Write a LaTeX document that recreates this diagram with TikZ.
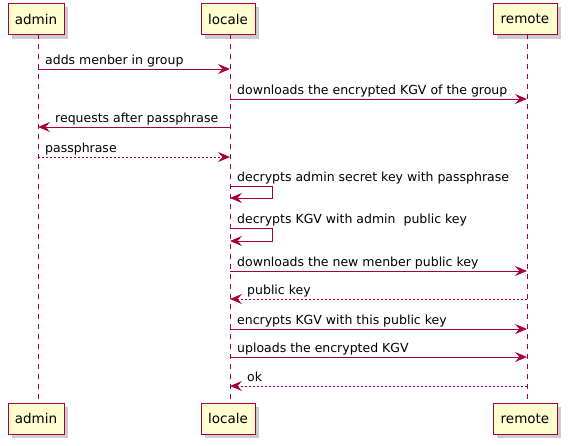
\documentclass[tikz,border=0pt]{standalone}
\usepackage{fontspec}
\setmainfont{DejaVu Sans}
\usetikzlibrary{arrows.meta}
\definecolor{umlred}{HTML}{A80036}
\definecolor{umlfill}{HTML}{FEFECE}
\tikzset{
  part/.style={draw=umlred, fill=umlfill, line width=1pt, minimum height=31pt, inner sep=0pt, font=\fontsize{13.5}{15}\selectfont},
  shadowbox/.style={fill=black!20, draw=none},
  lifeline/.style={draw=umlred, line width=0.8pt, dash pattern=on 5pt off 5pt},
  msg/.style={draw=umlred, line width=1pt, -{Stealth[length=12pt,width=10pt,inset=4.5pt]}},
  reply/.style={msg, dash pattern=on 2pt off 2pt},
  lbl/.style={anchor=base west, inner sep=0pt, font=\fontsize{12.5}{14}\selectfont}
}
\begin{document}
\begin{tikzpicture}[x=1pt,y=-1pt]
\useasboundingbox (0,0) rectangle (568,445);
% shadows
\fill[shadowbox] (12,7) rectangle (68,39);
\fill[shadowbox] (205,7) rectangle (259,39);
\fill[shadowbox] (497,7) rectangle (561,39);
\fill[shadowbox] (12,407) rectangle (68,438);
\fill[shadowbox] (205,407) rectangle (259,438);
\fill[shadowbox] (497,407) rectangle (561,438);
% lifelines
\coordinate (at) at (38,34); \coordinate (ab) at (38,403);
\coordinate (lt) at (230,34); \coordinate (lb) at (230,403);
\coordinate (rt) at (527,34); \coordinate (rb) at (527,403);
\draw[lifeline] (at) -- (ab);
\draw[lifeline] (lt) -- (lb);
\draw[lifeline] (rt) -- (rb);
% participants
\node[part, minimum width=56pt] (admintop) at (36,19) {admin};
\node[part, minimum width=54pt] (localetop) at (228,19) {locale};
\node[part, minimum width=64pt] (remotetop) at (525,19) {remote};
\node[part, minimum width=56pt] (adminbot) at (36,418.5) {admin};
\node[part, minimum width=54pt] (localebot) at (228,418.5) {locale};
\node[part, minimum width=64pt] (remotebot) at (525,418.5) {remote};
% message coordinates
\foreach \n/\y in {1/69,2/99,3/127,4/157,5/186,6/198,7/228,8/241,9/271,10/299,11/329,12/357,13/386}{
  \coordinate (a\n) at (38,\y);
  \coordinate (l\n) at (230,\y);
  \coordinate (r\n) at (527,\y);
  \coordinate (s\n) at (272,\y);
}
\draw[msg] (a1) -- (l1);
\node[lbl] (t1) at (45,64) {adds menber in group};
\draw[msg] (l2) -- (r2);
\node[lbl] (t2) at (237,94) {downloads the encrypted KGV of the group};
\draw[msg] (l3) -- (a3);
\node[lbl] (t3) at (55,122) {requests after passphrase};
\draw[reply] (a4) -- (l4);
\node[lbl] (t4) at (45,152) {passphrase};
\draw[msg] (l5) -- (s5) -- (s6) -- (l6);
\node[lbl] (t5) at (237,181) {decrypts admin secret key with passphrase};
\draw[msg] (l7) -- (s7) -- (s8) -- (l8);
\node[lbl] (t7) at (237,223) {decrypts KGV with admin\ \ public key};
\draw[msg] (l9) -- (r9);
\node[lbl] (t9) at (237,266) {downloads the new menber public key};
\draw[reply] (r10) -- (l10);
\node[lbl] (t10) at (247,294) {public key};
\draw[msg] (l11) -- (r11);
\node[lbl] (t11) at (237,324) {encrypts KGV with this public key};
\draw[msg] (l12) -- (r12);
\node[lbl] (t12) at (237,352) {uploads the encrypted KGV};
\draw[reply] (r13) -- (l13);
\node[lbl] (t13) at (247,381) {ok};
\end{tikzpicture}
\end{document}
